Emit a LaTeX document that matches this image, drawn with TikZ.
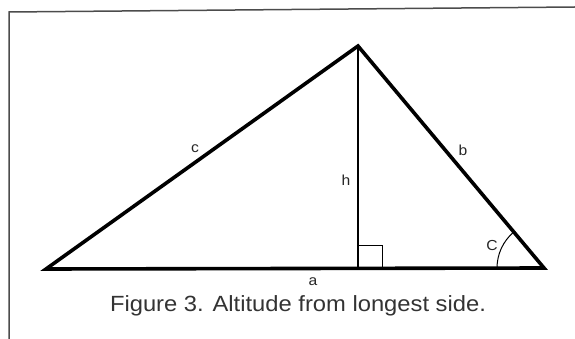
\documentclass[tikz,border=0pt]{standalone}
\usepackage{fontspec}
\setmainfont{Liberation Sans}
\newfontfamily\capfont[FakeStretch=1.08]{Liberation Sans}
\begin{document}
\begin{tikzpicture}[x=1pt,y=-1pt,
  side/.style={line width=3.6pt,line join=miter,line cap=round},
  alt/.style={line width=2.4pt},
  thinline/.style={line width=1pt},
  framestyle/.style={line width=1.5pt,draw=black!70},
  lbl/.style={font=\capfont\fontsize{14.5}{14.5}\selectfont,text=black!85,inner sep=0pt},
  captext/.style={font=\capfont\fontsize{22}{22}\selectfont,text=black!80,inner sep=0pt}]
\useasboundingbox (0,0) rectangle (575,339);
\coordinate (F1) at (9,339);
\coordinate (F2) at (9,12);
\coordinate (F3) at (575,7);
\draw[framestyle] (F1) -- (F2) -- (F3);
\coordinate (A) at (46,269);
\coordinate (T) at (358,46);
\coordinate (B) at (544,268);
\coordinate (H) at (358,268.5);
\draw[side] (A) -- (T) -- (B) -- cycle;
\draw[alt] (T) -- (H);
\coordinate (R1) at (358,245);
\coordinate (R2) at (382,245);
\coordinate (R3) at (382,268);
\draw[thinline] (R1) -- (R2) -- (R3);
\draw[thinline] ([xshift=-47pt]B) arc[start angle=180,end angle=229.5,radius=47];
\node[lbl] (lc) at (195,149) {c};
\node[lbl] (lb) at (463,150) {b};
\node[lbl] (lh) at (346,180) {h};
\node[lbl] (la) at (313,282) {a};
\node[lbl] (lC) at (492,246) {C};
\node[captext,anchor=base] (caption) at (298,311) {Figure 3. Altitude from longest side.};
\end{tikzpicture}
\end{document}
